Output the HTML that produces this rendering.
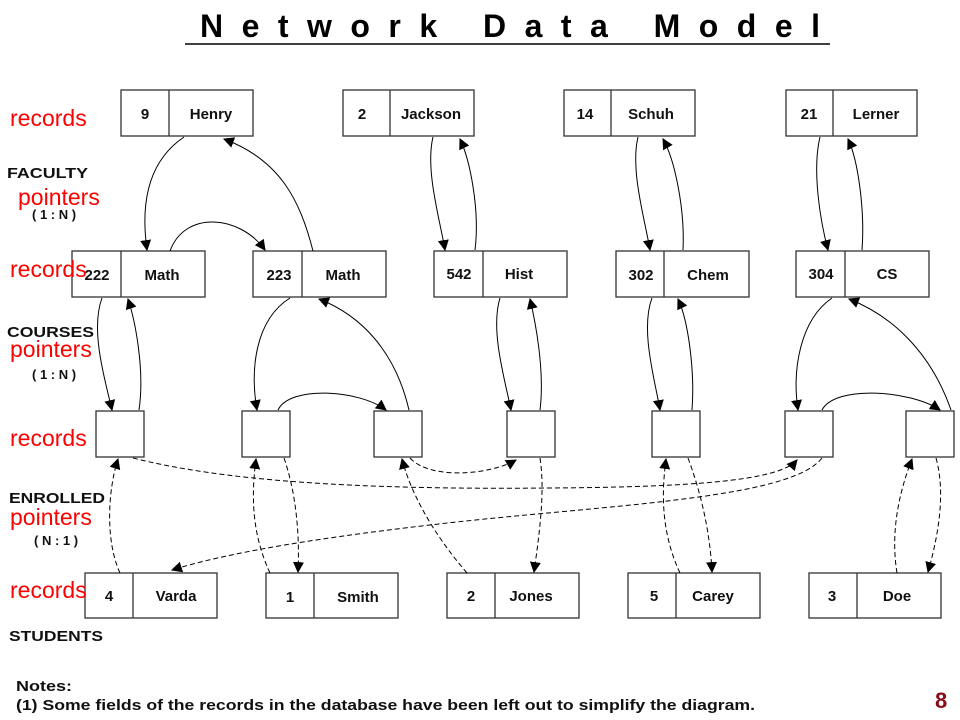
<!DOCTYPE html>
<html><head><style>
body{margin:0;background:#fff;width:960px;height:720px;overflow:hidden}
svg{display:block}
.b{font-family:"Liberation Sans",sans-serif;font-weight:bold;font-size:15px;fill:#111}
.r{font-family:"Liberation Sans",sans-serif;font-size:23px;fill:#f00}
.l{font-family:"Liberation Sans",sans-serif;font-weight:bold;font-size:15px;fill:#111}
</style></head><body>
<svg width="960" height="720" viewBox="0 0 960 720">
<defs><marker id="a" viewBox="0 0 10 10" refX="9" refY="5" markerWidth="11" markerHeight="11" markerUnits="userSpaceOnUse" orient="auto"><path d="M0,0L10,5L0,10z" fill="#000"/></marker></defs>
<text x="200" y="37" textLength="620" lengthAdjust="spacing" font-family="Liberation Sans,sans-serif" font-weight="bold" font-size="32" fill="#000">Network Data Model</text>
<line x1="185" y1="44" x2="830" y2="44" stroke="#000" stroke-width="1.5"/>
<g fill="#fff" stroke="#333" stroke-width="1.3">
<rect x="121" y="90" width="132" height="46"/><line x1="169" y1="90" x2="169" y2="136"/>
<rect x="343" y="90" width="131" height="46"/><line x1="390" y1="90" x2="390" y2="136"/>
<rect x="564" y="90" width="131" height="46"/><line x1="611" y1="90" x2="611" y2="136"/>
<rect x="786" y="90" width="131" height="46"/><line x1="833" y1="90" x2="833" y2="136"/>
<rect x="72" y="251" width="133" height="46"/><line x1="121" y1="251" x2="121" y2="297"/>
<rect x="253" y="251" width="133" height="46"/><line x1="302" y1="251" x2="302" y2="297"/>
<rect x="434" y="251" width="133" height="46"/><line x1="483" y1="251" x2="483" y2="297"/>
<rect x="616" y="251" width="133" height="46"/><line x1="664" y1="251" x2="664" y2="297"/>
<rect x="796" y="251" width="133" height="46"/><line x1="845" y1="251" x2="845" y2="297"/>
<rect x="96" y="411" width="48" height="46"/><rect x="242" y="411" width="48" height="46"/><rect x="374" y="411" width="48" height="46"/><rect x="507" y="411" width="48" height="46"/><rect x="652" y="411" width="48" height="46"/><rect x="785" y="411" width="48" height="46"/><rect x="906" y="411" width="48" height="46"/>
<rect x="85" y="573" width="132" height="45"/><line x1="133" y1="573" x2="133" y2="618"/>
<rect x="266" y="573" width="132" height="45"/><line x1="314" y1="573" x2="314" y2="618"/>
<rect x="447" y="573" width="132" height="45"/><line x1="495" y1="573" x2="495" y2="618"/>
<rect x="628" y="573" width="132" height="45"/><line x1="676" y1="573" x2="676" y2="618"/>
<rect x="809" y="573" width="132" height="45"/><line x1="857" y1="573" x2="857" y2="618"/>
</g>
<g class="b" text-anchor="middle">
<text x="145" y="119">9</text><text x="211" y="119">Henry</text>
<text x="362" y="119">2</text><text x="431" y="119">Jackson</text>
<text x="585" y="119">14</text><text x="651" y="119">Schuh</text>
<text x="809" y="119">21</text><text x="876" y="119">Lerner</text>
<text x="97" y="280">222</text><text x="162" y="280">Math</text>
<text x="279" y="280">223</text><text x="343" y="280">Math</text>
<text x="459" y="279">542</text><text x="519" y="279">Hist</text>
<text x="641" y="280">302</text><text x="708" y="280">Chem</text>
<text x="821" y="279">304</text><text x="887" y="279">CS</text>
<text x="109" y="601">4</text><text x="176" y="601">Varda</text>
<text x="290" y="602">1</text><text x="358" y="602">Smith</text>
<text x="471" y="601">2</text><text x="531" y="601">Jones</text>
<text x="654" y="601">5</text><text x="713" y="601">Carey</text>
<text x="832" y="601">3</text><text x="897" y="601">Doe</text>
</g>
<g class="l">
<text x="7" y="178" textLength="81" lengthAdjust="spacingAndGlyphs">FACULTY</text><text x="32" y="219" font-size="13">( 1 : N )</text>
<text x="7" y="337" textLength="87" lengthAdjust="spacingAndGlyphs">COURSES</text><text x="32" y="379" font-size="13">( 1 : N )</text>
<text x="9" y="503" textLength="96" lengthAdjust="spacingAndGlyphs">ENROLLED</text><text x="34" y="545" font-size="13">( N : 1 )</text>
<text x="9" y="641" textLength="94" lengthAdjust="spacingAndGlyphs">STUDENTS</text>
<text x="16" y="691" textLength="56" lengthAdjust="spacingAndGlyphs">Notes:</text>
<text x="16" y="710" textLength="739" lengthAdjust="spacingAndGlyphs">(1) Some fields of the records in the database have been left out to simplify the diagram.</text>
</g>
<g class="r">
<text x="10" y="126">records</text><text x="18" y="205">pointers</text>
<text x="10" y="277">records</text><text x="10" y="357">pointers</text>
<text x="10" y="446">records</text><text x="10" y="525">pointers</text>
<text x="10" y="598">records</text>
</g>
<text x="935" y="708" font-family="Liberation Sans,sans-serif" font-weight="bold" font-size="22" fill="#8b0a1a">8</text>
<g fill="none" stroke="#000" stroke-width="1" marker-end="url(#a)">
<path d="M184,137 C150,160 140,200 147,250"/>
<path d="M313,251 C300,200 280,160 224,139"/>
<path d="M170,251 C185,210 240,215 265,250"/>
<path d="M433,137 C425,170 440,220 445,250"/>
<path d="M475,250 C480,210 470,160 460,139"/>
<path d="M638,137 C630,170 645,220 650,250"/>
<path d="M683,250 C685,210 675,160 663,139"/>
<path d="M820,137 C812,170 820,220 828,250"/>
<path d="M862,250 C865,210 858,160 848,139"/>
<path d="M102,298 C90,330 105,380 112,410"/>
<path d="M139,410 C145,370 135,320 128,299"/>
<path d="M290,298 C255,320 250,370 257,410"/>
<path d="M409,410 C395,350 360,315 319,299"/>
<path d="M278,410 C290,385 360,390 386,410"/>
<path d="M500,298 C490,330 505,380 511,410"/>
<path d="M540,410 C545,370 535,320 530,299"/>
<path d="M652,298 C640,330 655,380 660,410"/>
<path d="M692,410 C695,370 688,320 678,299"/>
<path d="M832,298 C800,320 792,370 798,410"/>
<path d="M951,410 C930,350 890,315 849,299"/>
<path d="M822,410 C835,385 910,390 940,410"/>
</g>
<g fill="none" stroke="#000" stroke-width="1" stroke-dasharray="5,3" marker-end="url(#a)">
<path d="M133,458 C220,480 350,490 550,488 C700,487 780,480 797,460"/>
<path d="M410,458 C430,480 490,475 516,460"/>
<path d="M822,458 C790,500 600,505 430,525 C300,540 220,555 172,570"/>
<path d="M120,573 C105,540 108,490 118,459"/>
<path d="M270,573 C250,530 252,490 256,459"/>
<path d="M284,458 C295,490 300,530 298,572"/>
<path d="M467,573 C430,530 410,490 402,459"/>
<path d="M540,458 C545,490 540,530 534,572"/>
<path d="M680,573 C660,530 662,490 666,459"/>
<path d="M688,458 C700,490 710,530 712,572"/>
<path d="M897,573 C890,530 900,490 912,459"/>
<path d="M936,458 C945,490 940,530 928,572"/>
</g>
</svg>
</body></html>
